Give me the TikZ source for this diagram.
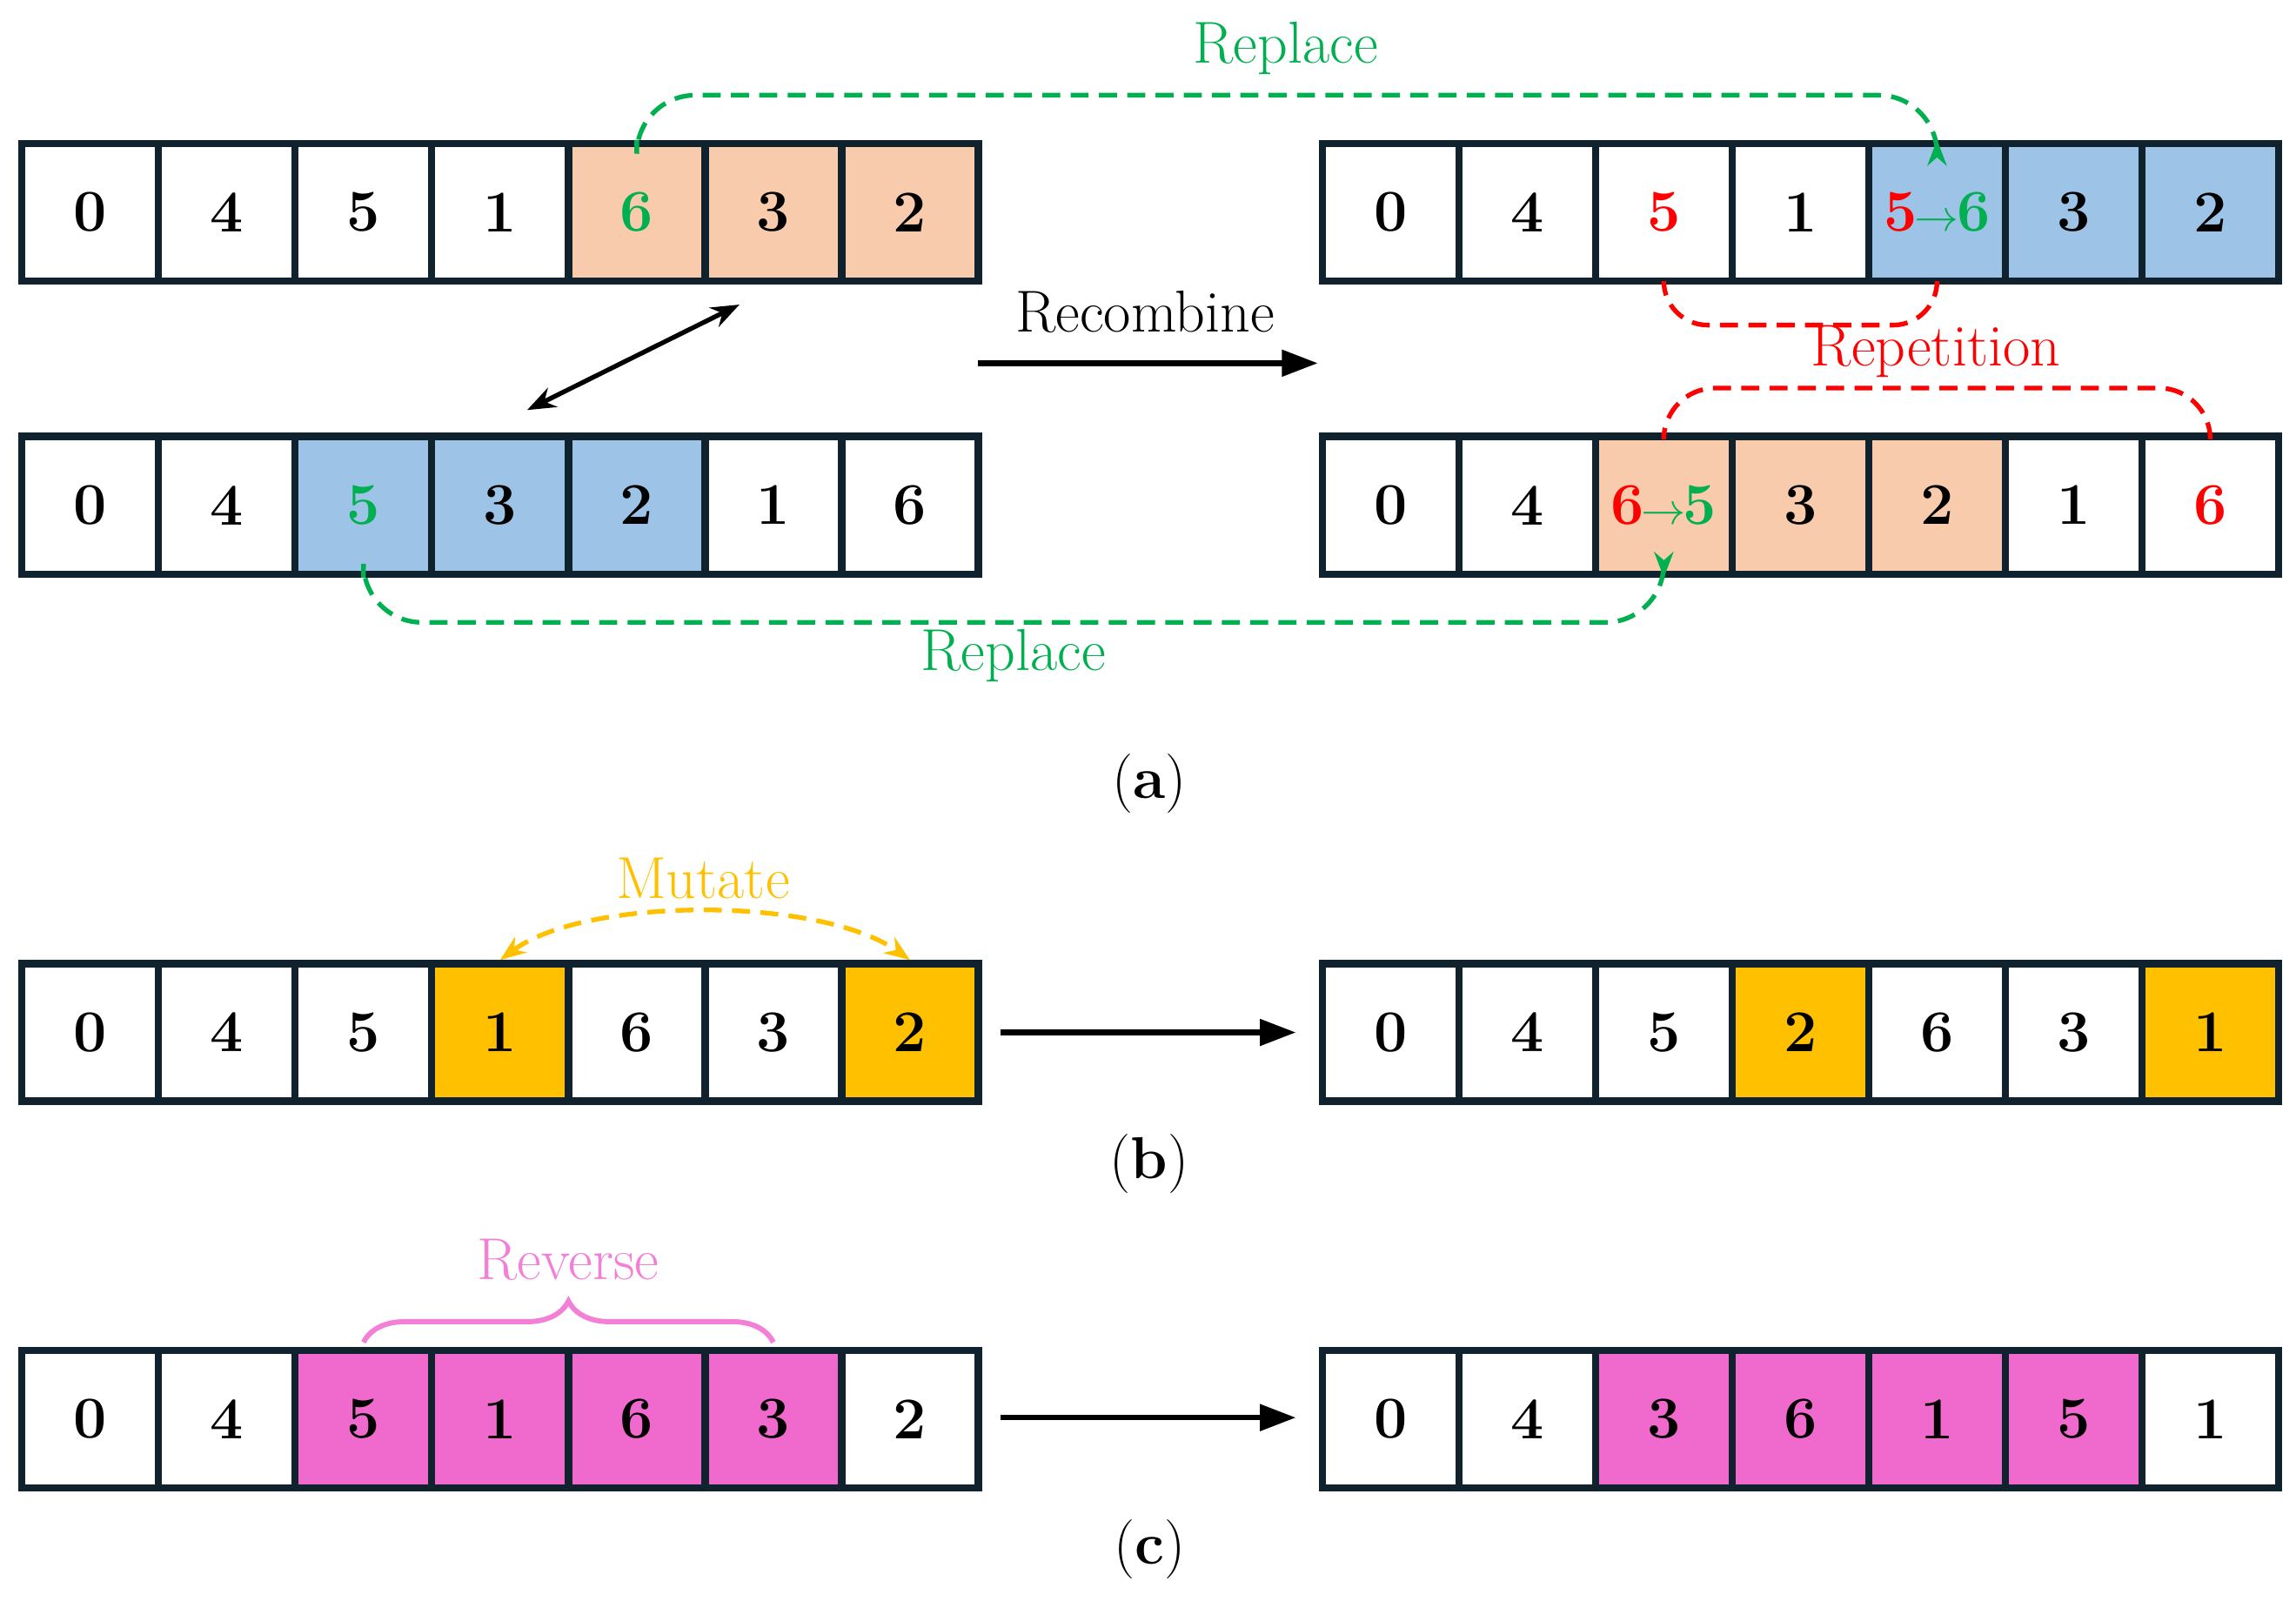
\documentclass[tikz,border=0pt]{standalone}
\usetikzlibrary{decorations.pathreplacing,arrows.meta,calc}
\definecolor{edge}{HTML}{10222E}
\definecolor{peach}{HTML}{F8CBAD}
\definecolor{sky}{HTML}{9DC3E6}
\definecolor{gold}{HTML}{FFC000}
\definecolor{pinkc}{HTML}{F06ACD}
\definecolor{grn}{HTML}{00B050}
\definecolor{rd}{HTML}{FF0000}
\definecolor{pinkl}{HTML}{F47FD6}
\begin{document}
\begin{tikzpicture}[x=0.02cm,y=-0.02cm,
  cell/.style={draw=edge,line width=2.8pt,minimum width=1.866cm,minimum height=1.88cm,inner sep=0pt,font=\fontsize{23}{26}\selectfont\bfseries},
  lbl/.style={font=\fontsize{23}{26}\selectfont},
  dsh/.style={dashed,line width=1.8pt,dash pattern=on 7pt off 4pt},
  arr/.style={line width=2.2pt,-{Triangle[length=14pt,width=10pt]}}]
\useasboundingbox (0,0) rectangle (1568,1098);
\newcommand{\arrrow}[4]{% name, x0, yc, list
  \foreach \f/\t [count=\i] in {#4}{
    \node[cell,fill=\f] (#1-\i) at ({#2+93.3*(\i-0.5)},#3) {\t};}}
\arrrow{a1}{15}{145}{white/0,white/4,white/5,white/1,peach/\textcolor{grn}{6},peach/3,peach/2}
\arrrow{b1}{903}{145}{white/0,white/4,white/\textcolor{rd}{5},white/1,sky/{\textcolor{rd}{5}\textcolor{grn}{\kern-1pt$\scriptstyle\rightarrow$\kern-1pt6}},sky/3,sky/2}
\arrrow{a2}{15}{345}{white/0,white/4,sky/\textcolor{grn}{5},sky/3,sky/2,white/1,white/6}
\arrrow{b2}{903}{345}{white/0,white/4,peach/{\textcolor{rd}{6}\textcolor{grn}{\kern-1pt$\scriptstyle\rightarrow$\kern-1pt5}},peach/3,peach/2,white/1,white/\textcolor{rd}{6}}
\arrrow{a3}{15}{705}{white/0,white/4,white/5,gold/1,white/6,white/3,gold/2}
\arrrow{b3}{903}{705}{white/0,white/4,white/5,gold/2,white/6,white/3,gold/1}
\arrrow{a4}{15}{969}{white/0,white/4,pinkc/5,pinkc/1,pinkc/6,pinkc/3,white/2}
\arrrow{b4}{903}{969}{white/0,white/4,pinkc/3,pinkc/6,pinkc/1,pinkc/5,white/1}
% (a)
\draw[dsh,grn,rounded corners=0.8cm,-{Stealth[length=10pt]}] (a1-5.north) |- (880,65) -| (b1-5.north);
\node[lbl,text=grn] (rp1) at (878,33) {Replace};
\draw[dsh,grn,rounded corners=0.8cm,-{Stealth[length=10pt]}] (a2-3.south) |- (700,425) -| (b2-3.south);
\node[lbl,text=grn] (rp2) at (692,448) {Replace};
\coordinate (d1) at (505,208); \coordinate (d2) at (360,280);
\draw[line width=1.8pt,{Stealth[length=11pt]}-{Stealth[length=11pt]}] (d1) -- (d2);
\coordinate (r1) at (668,248); \coordinate (r2) at (900,248);
\draw[arr] (r1) -- (r2);
\node[lbl] (rec) at (782,213) {Recombine};
\draw[dsh,rd,rounded corners=0.6cm] (b1-3.south) |- (1230,222) -| (b1-5.south);
\draw[dsh,rd,rounded corners=0.7cm] (b2-3.north) |- (1320,265) -| (b2-7.north);
\node[lbl,text=rd] (rept) at (1322,240) {Repetition};
\node[lbl] (ca) at (785,535) {(\textbf{a})};
% (b)
\draw[dsh,gold,{Stealth[length=10pt]}-{Stealth[length=10pt]}] (a3-4.north) .. controls (400,612) and (560,612) .. (a3-7.north);
\node[lbl,text=gold] (mu) at (480,600) {Mutate};
\coordinate (m1) at (683,705); \coordinate (m2) at (885,705);
\draw[arr] (m1) -- (m2);
\node[lbl] (cb) at (785,795) {(\textbf{b})};
% (c)
\draw[pinkl,line width=2pt,decorate,decoration={brace,amplitude=16pt}] ($(a4-3.north)+(0,-3)$) -- ($(a4-6.north)+(0,-3)$);
\node[lbl,text=pinkl] (rv) at (388,860) {Reverse};
\coordinate (n1) at (683,968); \coordinate (n2) at (885,968);
\draw[arr] (n1) -- (n2);
\node[lbl] (cc) at (785,1058) {(\textbf{c})};
\end{tikzpicture}
\end{document}
